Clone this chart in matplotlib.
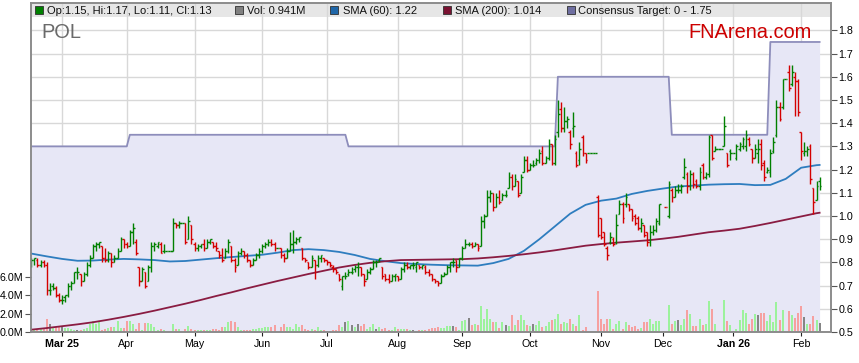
import numpy as np
import pandas as pd
import matplotlib
matplotlib.use("Agg")
import matplotlib.pyplot as plt
from matplotlib.patches import Rectangle

plt.rcParams['font.family'] = ['Liberation Sans', 'DejaVu Sans']

# trading days (weekdays) shown on the chart
dates = pd.bdate_range("2025-02-17", "2026-02-10")

opens = [.79, .81, .81, .79, .80, .79, .68, .70, .69, .66,
         .64, .65, .66, .70, .71, .76, .75, .72, .75, .79,
         .82, .87, .88, .87, .82, .81, .84, .80, .82, .85,
         .90, .88, .87, .93, .89, .78, .72, .76, .72, .78,
         .87, .87, .88, .85, .85, .85, .85, .97, .96, .97,
         .97, .90, .96, .88, .86, .87, .88, .86, .89, .89,
         .87, .85, .83, .82, .85, .87, .81, .79, .84, .85,
         .83, .81, .79, .81, .83, .85, .87, .88, .89, .88,
         .86, .86, .83, .82, .85, .88, .89, .90, .86, .82,
         .80, .78, .81, .79, .82, .82, .81, .80, .78, .77,
         .75, .70, .74, .75, .76, .77, .78, .78, .75, .73,
         .76, .77, .80, .81, .78, .75, .73, .72, .74, .74,
         .73, .77, .79, .78, .79, .78, .79, .78, .78, .76,
         .75, .73, .72, .71, .74, .75, .78, .80, .81, .78,
         .82, .86, .88, .88, .87, .88, .87, .98, 1.00, 1.08,
         1.10, 1.04, 1.08, 1.07, 1.09, 1.12, 1.17, 1.13, 1.15, 1.10,
         1.19, 1.24, 1.20, 1.22, 1.23, 1.24, 1.28, 1.23, 1.25, 1.31,
         1.23, 1.36, 1.46, 1.38, 1.41, 1.36, 1.38, 1.27, 1.24, 1.34,
         1.27, 1.27, 1.27, 1.27, 1.08, .99, .93, .86, .89, .90,
         .89, 1.01, 1.05, 1.05, 1.05, 1.03, 1.00, .99, .95, .96,
         .93, .89, .93, .94, .97, None, 1.04, 1.00, 1.11, 1.08,
         1.11, 1.11, 1.17, 1.18, 1.13, 1.18, 1.15, 1.13, 1.22, 1.17,
         1.18, 1.35, 1.28, 1.29, 1.29, 1.30, 1.27, 1.28, 1.27, 1.25,
         1.29, 1.30, 1.30, 1.33, 1.29, 1.25, 1.27, 1.31, 1.23, 1.19,
         1.19, 1.28, 1.35, 1.47, 1.47, 1.59, 1.62, 1.57, 1.60, 1.58,
         1.36, 1.27, 1.28, 1.30, 1.12, 1.07, 1.15]

highs = [.82, .82, .82, .81, .81, .80, .71, .71, .70, .67,
         .66, .66, .71, .72, .76, .78, .75, .76, .80, .83,
         .88, .89, .89, .87, .86, .85, .84, .83, .86, .91,
         .90, .89, .94, .97, .90, .78, .78, .76, .79, .89,
         .89, .89, .89, .88, .85, .85, .99, .97, .98, .97,
         .97, 1.00, .96, .89, .88, .88, .90, .90, .90, .89,
         .89, .85, .86, .86, .90, .87, .82, .85, .86, .85,
         .84, .81, .82, .84, .86, .88, .89, .90, .90, .89,
         .86, .86, .84, .86, .93, .94, .91, .91, .86, .82,
         .80, .83, .81, .83, .83, .82, .81, .80, .79, .77,
         .75, .74, .76, .77, .78, .79, .80, .78, .75, .77,
         .78, .81, .81, .82, .78, .75, .75, .75, .75, .74,
         .78, .80, .80, .79, .80, .80, .79, .79, .79, .77,
         .75, .73, .72, .75, .76, .79, .80, .82, .81, .82,
         .87, .90, .89, .89, .89, .88, 1.00, 1.01, 1.11, 1.11,
         1.10, 1.10, 1.11, 1.10, 1.11, 1.19, 1.18, 1.18, 1.15, 1.18,
         1.26, 1.26, 1.23, 1.24, 1.25, 1.29, 1.30, 1.26, 1.33, 1.31,
         1.35, 1.50, 1.49, 1.47, 1.43, 1.37, 1.45, 1.28, 1.32, 1.35,
         1.27, 1.27, 1.27, 1.27, 1.09, .99, .93, .87, .93, .91,
         1.01, 1.07, 1.06, 1.10, 1.05, 1.03, 1.01, 1.00, .99, .96,
         .93, .96, .96, .99, 1.05, None, 1.04, 1.15, 1.12, 1.13,
         1.14, 1.14, 1.25, 1.19, 1.20, 1.19, 1.16, 1.21, 1.23, 1.19,
         1.35, 1.35, 1.30, 1.29, 1.29, 1.43, 1.27, 1.29, 1.27, 1.31,
         1.32, 1.34, 1.37, 1.34, 1.29, 1.31, 1.33, 1.33, 1.24, 1.21,
         1.29, 1.34, 1.50, 1.49, 1.59, 1.59, 1.65, 1.65, 1.62, 1.59,
         1.36, 1.32, 1.30, 1.31, 1.12, 1.15, 1.17]

lows = [.78, .79, .78, .78, .78, .66, .66, .68, .65, .63,
        .62, .63, .65, .68, .71, .73, .70, .72, .74, .78,
        .82, .85, .86, .80, .80, .80, .78, .80, .82, .85,
        .86, .86, .87, .88, .83, .70, .72, .69, .72, .76,
        .85, .86, .84, .84, .85, .85, .85, .95, .95, .97,
        .88, .90, .88, .85, .85, .86, .85, .86, .88, .86,
        .85, .82, .80, .82, .84, .80, .76, .79, .83, .82,
        .80, .78, .79, .81, .82, .84, .86, .87, .87, .85,
        .86, .82, .80, .82, .85, .84, .88, .89, .81, .80,
        .77, .78, .73, .78, .80, .80, .79, .78, .76, .75,
        .72, .68, .73, .74, .75, .76, .74, .74, .70, .73,
        .75, .77, .78, .80, .73, .72, .71, .72, .72, .72,
        .73, .76, .77, .77, .77, .76, .77, .77, .75, .74,
        .72, .71, .70, .71, .74, .75, .76, .78, .76, .78,
        .81, .86, .87, .86, .87, .85, .87, .95, 1.00, 1.06,
        1.02, 1.04, 1.05, 1.07, 1.08, 1.12, 1.11, 1.13, 1.08, 1.10,
        1.19, 1.19, 1.20, 1.21, 1.22, 1.23, 1.22, 1.23, 1.24, 1.22,
        1.22, 1.34, 1.36, 1.36, 1.38, 1.29, 1.34, 1.21, 1.22, 1.26,
        1.23, 1.27, 1.27, 1.27, .91, .90, .87, .81, .88, .87,
        .88, 1.01, .97, 1.04, 1.02, .98, .96, .94, .93, .91,
        .87, .87, .92, .93, .96, None, 1.04, .99, 1.06, 1.08,
        1.10, 1.10, 1.16, 1.10, 1.11, 1.12, 1.12, 1.11, 1.16, 1.16,
        1.17, 1.24, 1.28, 1.29, 1.29, 1.30, 1.21, 1.24, 1.27, 1.24,
        1.28, 1.29, 1.28, 1.30, 1.23, 1.25, 1.23, 1.20, 1.15, 1.185,
        1.17, 1.27, 1.34, 1.41, 1.46, 1.59, 1.54, 1.56, 1.43, 1.43,
        1.24, 1.26, 1.26, 1.14, 1.01, 1.07, 1.11]

closes = [.81, .82, .79, .80, .79, .68, .68, .69, .66, .64,
          .64, .66, .70, .71, .76, .76, .72, .75, .79, .82,
          .87, .88, .89, .82, .81, .84, .80, .82, .85, .90,
          .88, .87, .93, .95, .84, .72, .77, .70, .78, .87,
          .88, .89, .84, .85, .85, .85, .97, .96, .97, .97,
          .89, .98, .90, .86, .87, .88, .86, .89, .90, .87,
          .86, .83, .81, .85, .89, .81, .78, .84, .85, .83,
          .81, .79, .81, .83, .85, .87, .88, .89, .88, .86,
          .86, .83, .82, .85, .88, .89, .90, .91, .82, .81,
          .78, .82, .79, .82, .83, .81, .80, .79, .77, .76,
          .73, .74, .74, .76, .76, .78, .78, .75, .72, .76,
          .77, .80, .80, .82, .74, .73, .72, .74, .75, .73,
          .77, .79, .78, .79, .79, .80, .78, .79, .76, .75,
          .73, .72, .71, .74, .75, .78, .80, .80, .78, .82,
          .86, .88, .88, .87, .88, .86, .98, 1.00, 1.08, 1.10,
          1.04, 1.08, 1.06, 1.09, 1.09, 1.17, 1.13, 1.16, 1.09, 1.17,
          1.24, 1.20, 1.22, 1.22, 1.24, 1.27, 1.23, 1.25, 1.31, 1.23,
          1.33, 1.44, 1.38, 1.41, 1.42, 1.31, 1.39, 1.22, 1.29, 1.27,
          1.24, 1.27, 1.27, 1.27, .92, .91, .88, .83, .91, .88,
          .96, 1.05, .99, 1.08, 1.03, .99, .97, .95, .97, .92,
          .89, .93, .94, .98, 1.05, None, 1.04, 1.14, 1.08, 1.11,
          1.11, 1.13, 1.21, 1.13, 1.18, 1.14, 1.13, 1.19, 1.17, 1.18,
          1.34, 1.25, 1.29, 1.29, 1.29, 1.39, 1.22, 1.27, 1.27, 1.30,
          1.31, 1.33, 1.35, 1.31, 1.25, 1.29, 1.29, 1.22, 1.17, 1.20,
          1.27, 1.32, 1.47, 1.42, 1.59, 1.59, 1.55, 1.62, 1.58, 1.45,
          1.28, 1.28, 1.29, 1.16, 1.06, 1.13, 1.13]

# volume in millions of shares
volume_m = [.35, .20, .25, .30, .30, 1.45, .90, .45, .55, .55,
            .55, .40, .45, .35, .20, .18, .25, .35, .45, .90,
            1.20, .85, 1.10, .20, .30, .45, .60, .60, 1.20, .45,
            .45, 1.25, 1.20, .90, .35, 1.00, .20, 1.00, 1.00, .85,
            .60, .25, .30, .20, 0, 0, .90, .35, .35, 0,
            .35, .70, .35, .25, .25, .20, .20, .20, .20, .30,
            .35, .20, .55, .60, 1.10, 1.20, 1.10, .55, .25, .20,
            .25, .25, .30, .30, .45, .45, .55, .55, .55, .75,
            0, .55, .85, .55, .55, .30, .90, .55, .73, .36,
            .25, .36, .25, .55, .18, .18, .07, .10, .18, .20,
            .73, .55, 1.10, 1.20, .73, .55, .85, .62, .85, .36,
            .55, .85, .36, .60, .36, .47, .18, .25, .55, .36,
            .36, .36, .30, .18, .18, .10, .18, .18, .18, .30,
            .45, .45, .60, .47, .45, .62, .62, .62, .55, .20,
            1.20, 1.28, 1.50, .73, .85, .73, 2.80, 1.46, 2.55, 1.38,
            1.10, 1.10, .47, 1.13, .80, .62, 1.82, .73, 1.28, 1.82,
            1.28, .73, .62, .85, .73, 1.17, .55, .62, 1.10, 1.28,
            1.38, 2.00, .90, 1.10, 1.00, 1.40, .90, .62, 1.82, .25,
            .55, 0, 0, 0, 4.50, 1.38, .90, 1.38, 1.46, .30,
            .90, 1.20, .36, 1.10, .73, .55, .62, .36, .47, 1.10,
            1.10, 1.46, .90, 1.20, 1.20, 0, 0, 2.90, .85, 1.17,
            1.35, .73, 1.46, 2.37, 1.93, .62, .62, 1.38, .73, .90,
            3.35, 2.48, .90, 0, 0, 3.46, 1.20, .73, 0, .36,
            1.28, 2.37, 2.10, .85, 1.38, 1.93, 1.82, 2.08, 2.08, 1.17,
            1.82, 1.10, 3.28, 1.28, 2.37, 0, 2.26, 1.82, 1.57, 2.08,
            2.80, 1.65, .85, .85, 1.70, 1.28, .941]

# moving averages (weekly, Mondays) plus the last day
sma_dates = pd.date_range("2025-02-17", "2026-02-09", freq="W-MON").append(
    pd.DatetimeIndex(["2026-02-10"]))
sma60 = [.838, .826, .815, .807, .808, .812, .815, .813, .810, .804,
         .806, .812, .818, .823, .828, .833, .842, .853, .857, .853,
         .845, .832, .815, .805, .797, .793, .790, .788, .787, .786,
         .797, .815, .850, .900, .955, 1.010, 1.048, 1.066, 1.075, 1.095,
         1.108, 1.118, 1.127, 1.131, 1.135, 1.137, 1.138, 1.133, 1.134, 1.160,
         1.208, 1.219, 1.22]
sma200 = [.510, .517, .525, .533, .542, .553, .565, .578, .592, .607,
          .622, .638, .655, .671, .688, .704, .720, .735, .750, .764,
          .778, .789, .798, .805, .810, .811, .812, .813, .814, .817,
          .822, .828, .835, .843, .852, .862, .872, .879, .885, .890,
          .895, .902, .910, .920, .930, .937, .945, .957, .970, .984,
          .998, 1.012, 1.014]

# consensus target changes
target_dates = ["2025-02-17", "2025-04-02", "2025-07-10", "2025-10-14", "2025-12-04", "2026-01-19"]
target_values = [1.30, 1.35, 1.30, 1.60, 1.35, 1.75]

ticker = "POL"

# ---------------------------------------------------------------
o = np.array(opens, dtype=float)
h = np.array(highs, dtype=float)
l = np.array(lows, dtype=float)
c = np.array(closes, dtype=float)
vol = np.array(volume_m, dtype=float)
x = np.arange(len(dates))
ok = ~np.isnan(c)

chg = pd.Series(c).ffill().diff().fillna(1).values
bar_col = np.where(chg < 0, '#d40000', '#008000')
vol_col = np.where(chg > 0, '#9cf29c', np.where(chg < 0, '#f6a0a0', '#858585'))

sma_x = dates.get_indexer(sma_dates)
target = pd.Series(target_values, index=pd.to_datetime(target_dates)).reindex(dates, method='ffill').values

fig = plt.figure(figsize=(8.59, 3.63), dpi=100)
ax = fig.add_axes([31 / 859, 31 / 363, 800 / 859, 329 / 363])
axv = ax.twinx()
ax.yaxis.tick_right()
axv.yaxis.tick_left()

ax.set_xlim(-0.1, 259.7)
ax.set_ylim(0.5, 1.918)
axv.set_ylim(0, 35.9)

ax.set_axisbelow(True)
ax.grid(True, color='#d8d8d8', lw=1.0)

# legend strip at the top of the frame
ax.add_patch(Rectangle((0, 1 - 14 / 329), 1, 14 / 329, transform=ax.transAxes,
                       facecolor='#e6e6e6', edgecolor='none', zorder=0.3))

ax.fill_between(x, 0.5, target, color='#e7e7f6', lw=0, zorder=1)
ax.plot(x, target, color='#8d8dbb', lw=1.3, zorder=1.1)

ax.bar(x[ok], vol[ok], width=0.65, color=vol_col[ok], transform=axv.transData, zorder=2)

ax.plot(sma_x, sma60, color='#2e7dbf', lw=1.3, zorder=3)
ax.plot(sma_x, sma200, color='#8a1c42', lw=1.3, zorder=3)

ax.vlines(x[ok], l[ok], h[ok], colors=bar_col[ok], lw=1.0, zorder=4)
ax.hlines(o[ok], x[ok] - 0.55, x[ok], colors=bar_col[ok], lw=1.0, zorder=4)
ax.hlines(c[ok], x[ok], x[ok] + 0.55, colors=bar_col[ok], lw=1.0, zorder=4)

# month ticks
firsts = pd.Series(x, index=dates).groupby([dates.year, dates.month]).first()
tick_pos, tick_lab, bold = [], [], []
for (yr, mo), pos in firsts.items():
    d = dates[pos]
    if d.day > 4:
        continue
    if mo == 1 or not tick_pos:
        tick_lab.append(d.strftime("%b %y"))
        bold.append(True)
    else:
        tick_lab.append(d.strftime("%b"))
        bold.append(False)
    tick_pos.append(pos)
ax.set_xticks(tick_pos)
ax.set_xticklabels(tick_lab)
for t, b in zip(ax.get_xticklabels(), bold):
    if b:
        t.set_fontweight('bold')
ax.tick_params(axis='x', length=3, pad=2, labelsize=7.7, color='#222222')

yt = np.round(np.arange(0.5, 1.81, 0.1), 1)
ax.set_yticks(yt)
ax.set_yticklabels([f"{v:.1f}" for v in yt])
ax.tick_params(axis='y', length=4, pad=1.5, labelsize=7.7, color='#555555')

axv.set_yticks([0, 2, 4, 6])
axv.set_yticklabels([f"{v:.1f}M" for v in [0, 2, 4, 6]])
axv.tick_params(axis='y', length=4, pad=1.5, labelsize=7.7, color='#555555')

for a in (ax, axv):
    for s in a.spines.values():
        s.set_color('#8c8c8c')
        s.set_linewidth(1.2)

# legend
last = np.where(ok)[0][-1]
items = [
    (35, '#008000', f"Op:{o[last]:.2f}, Hi:{h[last]:.2f}, Lo:{l[last]:.2f}, Cl:{c[last]:.2f}", 47),
    (235, '#808080', f"Vol: {vol[last]:g}M", 247),
    (330, '#1f66a8', f"SMA (60): {sma60[-1]:g}", 343),
    (443, '#7a1232', f"SMA (200): {sma200[-1]:g}", 455),
    (567, '#6e6ea0', f"Consensus Target: 0 - {target_values[-1]:g}", 578),
]
for sx, col, txt, tx in items:
    fig.add_artist(Rectangle((sx / 859, 1 - 14 / 363), 7.5 / 859, 7.5 / 363,
                             transform=fig.transFigure, facecolor=col,
                             edgecolor='#303030', lw=0.6, zorder=5))
    fig.text(tx / 859, 1 - 14 / 363, txt, fontsize=8, color='#111111',
             ha='left', va='baseline', zorder=5)

fig.text(41 / 859, 1 - 32 / 363, ticker, fontsize=14.4, color='#6a6a6a',
         ha='left', va='center', zorder=5)
fig.text(750 / 859, 1 - 32 / 363, "FNArena.com", fontsize=14.4, color='#cc0000',
         ha='center', va='center', zorder=5)

fig.savefig("out.png", dpi=100)
